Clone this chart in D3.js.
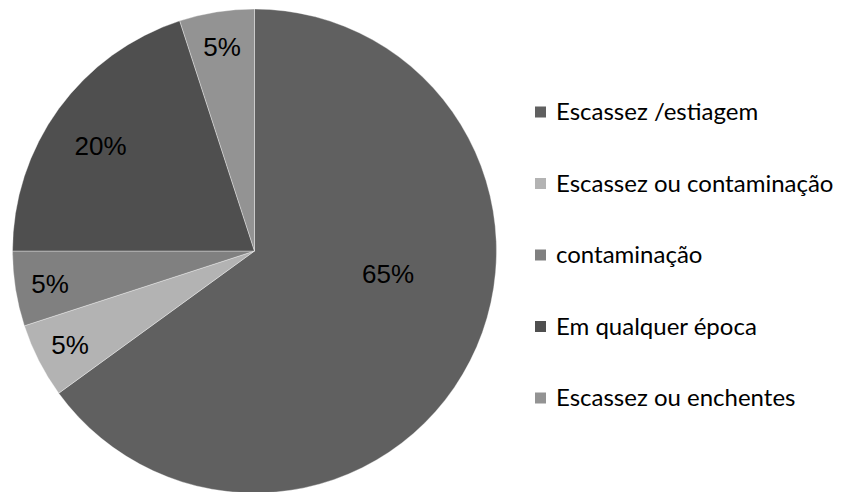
<!DOCTYPE html>
<html>
<head>
<meta charset="utf-8">
<script src="https://cdn.jsdelivr.net/npm/d3@7"></script>
<style>
  body { margin: 0; background: #fff; }
  svg { display: block; }
</style>
</head>
<body>
<svg id="chart"></svg>
<script>
// chart data
const categories = ["Escassez /estiagem", "Escassez ou contaminação", "contaminação", "Em qualquer época", "Escassez ou enchentes"];
const values = [65, 5, 5, 20, 5];
const colors = ["#606060", "#b3b3b3", "#808080", "#4f4f4f", "#939393"];

const width = 845, height = 492;
const cx = 254.5, cy = 251, radius = 242;

const svg = d3.select("#chart")
  .attr("width", width)
  .attr("height", height);

const data = categories.map((c, i) => ({ name: c, value: values[i], color: colors[i] }));

const pie = d3.pie().sort(null).value(d => d.value);
const arc = d3.arc().innerRadius(0).outerRadius(radius);

const g = svg.append("g")
  .attr("transform", "translate(" + cx + "," + cy + ")");

const arcs = pie(data);

g.selectAll(".slice")
  .data(arcs)
  .enter().append("path")
  .attr("class", "slice")
  .attr("d", arc)
  .attr("fill", d => d.data.color)
  .attr("stroke", "#ffffff")
  .attr("stroke-opacity", 0.5)
  .attr("stroke-width", 0.7);

// label placement: fraction of radius, and angle shift for the big slice
const labelRadius = d => d.data.value >= 60 ? 0.56 : d.data.value >= 20 ? 0.77 : 0.855;
const labelShift = d => d.data.value >= 60 ? -0.3 : d.data.value >= 20 ? -0.03 : 0;

g.selectAll(".label")
  .data(arcs)
  .enter().append("text")
  .attr("class", "label")
  .attr("transform", d => {
    const a = (d.startAngle + d.endAngle) / 2 + labelShift(d);
    const r = radius * labelRadius(d);
    return "translate(" + (Math.sin(a) * r) + "," + (-Math.cos(a) * r) + ")";
  })
  .attr("text-anchor", "middle")
  .attr("dy", "0.36em")
  .style("font-family", "'Liberation Sans', Arial, sans-serif")
  .style("font-size", "26px")
  .style("fill", "#000")
  .text(d => d.data.value + "%");

// legend
const legendY = d3.scalePoint()
  .domain(categories)
  .range([112, 398]);

const legend = svg.append("g")
  .selectAll(".legend")
  .data(data)
  .enter().append("g")
  .attr("class", "legend")
  .attr("transform", d => "translate(535," + legendY(d.name) + ")");

legend.append("rect")
  .attr("x", 0)
  .attr("y", -5.5)
  .attr("width", 11)
  .attr("height", 11)
  .attr("fill", d => d.color);

legend.append("text")
  .attr("x", 21)
  .attr("dy", "0.35em")
  .style("font-family", "Lato, 'Open Sans', sans-serif")
  .style("font-size", "24px")
  .style("fill", "#000")
  .text(d => d.name);
</script>
</body>
</html>
